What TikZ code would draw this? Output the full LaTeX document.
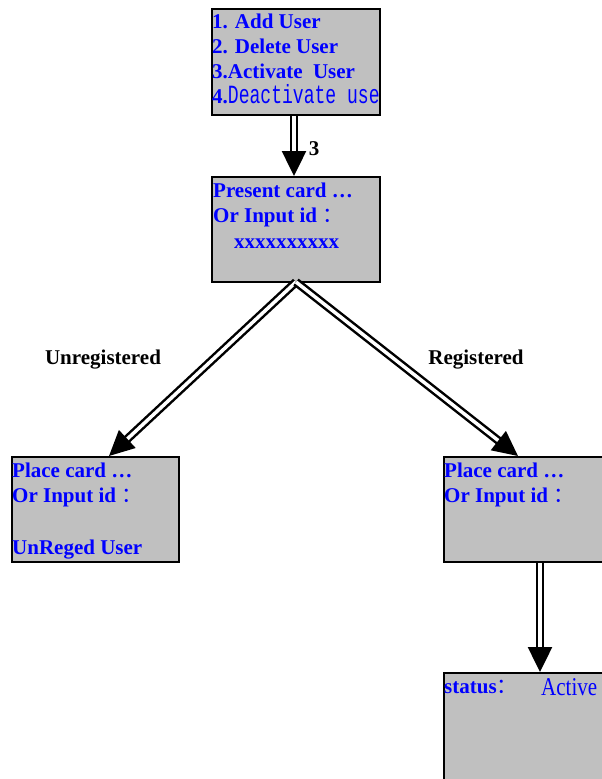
\documentclass[tikz,border=0pt]{standalone}
\usepackage{graphicx}
\usepackage{fontspec}
\setmainfont{Liberation Serif}
\newfontfamily\monofont{Liberation Mono}
\newfontfamily\cjkfont{Noto Sans CJK SC}
\usetikzlibrary{arrows.meta}
\definecolor{boxgray}{RGB}{192,192,192}
\definecolor{txtblue}{RGB}{0,0,255}
\newcommand{\fwcolon}{{\normalfont\cjkfont ：}}
\tikzset{
  panel/.style={draw=black, line width=2pt, fill=boxgray, anchor=north west, inner sep=0pt},
  bluetxt/.style={anchor=base west, inner sep=0pt, text=txtblue, font=\fontsize{21}{25}\selectfont\bfseries},
  lbltxt/.style={anchor=base, inner sep=0pt, text=black, font=\fontsize{21}{25}\selectfont\bfseries},
  dblarrow/.style={draw=black, line width=2.5pt, double=white, double distance=3.5pt,
    -{Triangle[length=25pt,width=24pt]}},
}
\begin{document}
\begin{tikzpicture}[x=1pt,y=-1pt]
\clip (0,0) rectangle (602,779);
\fill[white] (0,0) rectangle (602,779);
% boxes
\node[panel, minimum width=168pt, minimum height=106pt] (b1) at (211,8) {};
\node[panel, minimum width=168pt, minimum height=105pt] (b2) at (211,176) {};
\node[panel, minimum width=167pt, minimum height=105pt] (b3) at (11,456) {};
\node[panel, minimum width=192pt, minimum height=105pt] (b4) at (443,456) {};
\node[panel, minimum width=192pt, minimum height=160pt] (b5) at (443,672) {};
% box 1 text
\node[bluetxt] (t11) at (212,28) {1. Add User};
\node[bluetxt] (t12) at (212,53) {2. Delete User};
\node[bluetxt] (t13) at (212,78) {3.Activate\ \ User};
\node[bluetxt] (t14) at (212,103) {4.\scalebox{0.86}[1.25]{\mdseries\monofont\fontsize{21}{25}\selectfont Deactivate use}};
% box 2 text
\node[bluetxt] (t21) at (213,197) {Present card …};
\node[bluetxt] (t22) at (213,222) {Or Input id \fwcolon};
\node[bluetxt] (t23) at (234,248) {xxxxxxxxxx};
% box 3 text
\node[bluetxt] (t31) at (12,477) {Place card …};
\node[bluetxt] (t32) at (12,502) {Or Input id \fwcolon};
\node[bluetxt] (t33) at (12,554) {UnReged User};
% box 4 text
\node[bluetxt] (t41) at (444,477) {Place card …};
\node[bluetxt] (t42) at (444,502) {Or Input id \fwcolon};
% box 5 text
\node[bluetxt] (t51) at (444,693) {status\fwcolon};
\node[bluetxt, font=\fontsize{21}{25}\selectfont\mdseries] (t52) at (541,695) {\scalebox{1}[1.22]{Active}};
% labels
\node[lbltxt] (l3) at (314,155) {3};
\node[lbltxt] (lu) at (103,364) {Unregistered};
\node[lbltxt] (lr) at (476,364) {Registered};
% connector ends
\coordinate (b3in) at ([xshift=13.5pt]b3.north);
\coordinate (b4in) at ([xshift=-22pt]b4.north);
\coordinate (b2out) at ([yshift=1pt]b2.south);
% connectors
\draw[dblarrow] ([xshift=-2pt]b1.south) -- ([xshift=-2pt]b2.north);
\draw[dblarrow] (b2out) -- (b3in);
\draw[dblarrow] (b2out) -- (b4in);
\draw[dblarrow] (b4.south) -- (b5.north);
\end{tikzpicture}
\end{document}
